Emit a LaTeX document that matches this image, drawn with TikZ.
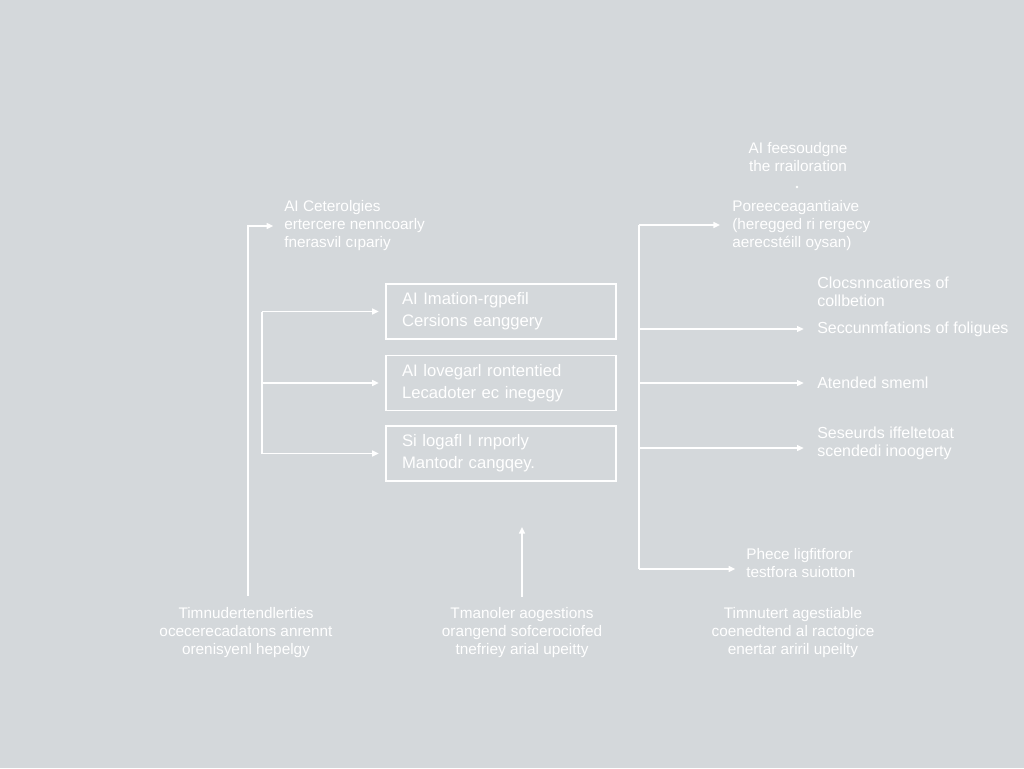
\documentclass[tikz,border=0pt]{standalone}
\usepackage{fontspec}
\setmainfont{Liberation Sans}
\usetikzlibrary{arrows.meta}
\definecolor{bgc}{HTML}{D4D8DB}
\begin{document}
\begin{tikzpicture}[x=0.75pt,y=-0.75pt,
  lbl/.style={text=white,font=\fontsize{11.5}{13.5}\selectfont,align=left,inner sep=0pt},
  rlbl/.style={lbl,font=\fontsize{12}{13.5}\selectfont},
  clbl/.style={text=white,font=\fontsize{11.5}{13.5}\selectfont,align=center,inner sep=0pt},
  boxn/.style={draw=white,line width=0.8pt,text=white,font=\fontsize{12.5}{16.5}\selectfont,
    align=left,text width=198*0.75pt,inner xsep=12pt,minimum width=230*0.75pt,minimum height=55*0.75pt,inner ysep=0pt},
  conn/.style={draw=white,line width=1.1pt,-{Triangle[length=5pt,width=4.5pt]}},
  trunk/.style={draw=white,line width=1.1pt}]
\fill[bgc] (0,0) rectangle (1024,768);
\useasboundingbox (0,0) rectangle (1024,768);

% left column
\node[lbl,anchor=west] (tl) at (284,226) {AI Ceterolgies\\ ertercere nenncoarly\\ fnerasvil cıpariy};
\node[clbl] (bl) at (246,633) {Timnudertendlerties\\ ocecerecadatons anrennt\\ orenisyenl hepelgy};
\coordinate (la) at (248,0);
\draw[conn,shorten >=8pt] (bl.north -| la) ++(0,-12) -- (la |- tl.west) -- (tl.west);

% boxes
\node[boxn] (b1) at (501,311.5) {AI Imation-rgpefil\\ Cersions eanggery};
\node[boxn] (b2) at (501,383) {AI lovegarl rontentied\\ Lecadoter ec inegegy};
\node[boxn] (b3) at (501,453.5) {Si logafl I rnporly\\ Mantodr cangqey.};
\coordinate (ia) at (262,0);
\draw[trunk] (ia |- b1.west) -- (ia |- b3.west);
\draw[conn,shorten >=5pt] (ia |- b1.west) -- (b1.west);
\draw[conn,shorten >=5pt] (ia |- b2.west) -- (b2.west);
\draw[conn,shorten >=5pt] (ia |- b3.west) -- (b3.west);

% middle bottom
\node[clbl] (bm) at (522,633) {Tmanoler aogestions\\ orangend sofcerociofed\\ tnefriey arial upeitty};
\coordinate (ua) at (522,527);
\draw[conn] (bm.north) ++(0,-11) -- (ua);

% top right
\node[clbl] (tt) at (798,157.5) {AI feesoudgne\\ the rrailoration};
\node[circle,fill=white,inner sep=0pt,minimum size=2pt] (dot) at (797,187) {};

% right column
\node[lbl,anchor=west] (r1) at (732,226) {Poreeceagantiaive\\ (heregged ri rergecy\\ aerecstéill oysan)};
\node[rlbl,anchor=west] (r2) at (817,292) {Clocsnncatiores of\\ collbetion};
\node[rlbl,anchor=west] (r3) at (817,329) {Seccunmfations of foligues};
\node[rlbl,anchor=west] (r4) at (817,383) {Atended smeml};
\node[rlbl,anchor=west] (r5) at (817,443) {Seseurds iffeltetoat\\ scendedi inoogerty};
\node[lbl,anchor=west] (r6) at (746,563.5) {Phece ligfitforor\\ testfora suiotton};
\node[clbl] (br) at (793,633) {Timnutert agestiable\\ coenedtend al ractogice\\ enertar ariril upeilty};

\coordinate (ra) at (639,0);
\coordinate (rt) at (639,225);
\coordinate (rb) at (639,569);
\draw[trunk] (rt) -- (rb);
\draw[conn,shorten >=9pt] (rt) -- (rt -| r1.west);
\draw[conn,shorten >=10pt] (ra |- r3.west) -- (r3.west);
\draw[conn,shorten >=10pt] (ra |- r4.west) -- (r4.west);
\draw[conn,shorten >=10pt] (ra |- 0,448) -- (r5.west |- 0,448);
\draw[conn,shorten >=8pt] (rb) -- (rb -| r6.west);
\end{tikzpicture}
\end{document}
